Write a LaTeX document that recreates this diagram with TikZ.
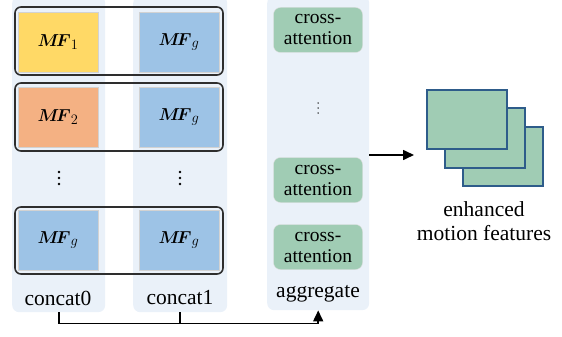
\documentclass[tikz,border=0pt]{standalone}
\usepackage{amsmath}
\usepackage{fontspec}
\setmainfont{Liberation Serif}
\usetikzlibrary{arrows.meta}
\definecolor{colbg}{HTML}{EAF1F9}
\definecolor{mfyellow}{HTML}{FFD966}
\definecolor{mforange}{HTML}{F4B183}
\definecolor{mfblue}{HTML}{9DC3E6}
\definecolor{cagreen}{HTML}{A0CCB4}
\definecolor{stackline}{HTML}{2E5C8A}
\definecolor{pairline}{HTML}{2E2E2E}
\tikzset{
  col/.style={fill=colbg, rounded corners=7pt, inner sep=0pt, anchor=north west},
  mf/.style={draw=gray!35, line width=0.8pt, minimum width=80pt, minimum height=60pt, inner sep=0pt, font=\fontsize{19}{20}\selectfont},
  pair/.style={draw=pairline, line width=1.6pt, rounded corners=6pt},
  ca/.style={fill=cagreen, draw=gray!25, rounded corners=7pt, minimum width=89pt, minimum height=45pt, inner sep=0pt, align=center, font=\fontsize{19.5}{21}\selectfont},
  lab/.style={font=\fontsize{21.5}{24}\selectfont},
  frame/.style={draw=stackline, fill=cagreen, line width=1.3pt},
  conn/.style={line width=1.6pt},
  dot/.style={circle, fill=black, inner sep=0pt, minimum size=#1}
}
\newcommand{\mfbox}[1]{$\boldsymbol{M\!F}_{#1}$}
\begin{document}
\begin{tikzpicture}[x=1pt,y=-1pt,>={Triangle[length=11pt,width=10pt]}]
  \useasboundingbox (0,0) rectangle (562,337);
  % columns
  \node[col, minimum width=93pt, minimum height=316pt] (col0) at (12,-4) {};
  \node[col, minimum width=94pt, minimum height=316pt] (col1) at (133,-4) {};
  \node[col, minimum width=102pt, minimum height=314pt] (agg) at (267,-4) {};
  % pairs
  \draw[pair] (15,7) rectangle (223,75);
  \draw[pair] (15,83) rectangle (223,151);
  \draw[pair] (15,207) rectangle (223,274);
  \node[mf, fill=mfyellow] (mfa) at (58,42) {\mfbox{1}};
  \node[mf, fill=mfblue] (mfb) at (179,42) {\mfbox{g}};
  \node[mf, fill=mforange] (mfc) at (58,117) {\mfbox{2}};
  \node[mf, fill=mfblue] (mfd) at (179,117) {\mfbox{g}};
  \node[mf, fill=mfblue] (mfe) at (58,240) {\mfbox{g}};
  \node[mf, fill=mfblue] (mff) at (179,240) {\mfbox{g}};
  % dots
  \foreach \x in {59,180} {
    \foreach \y in {172,178,184}
      \node[dot=2.6pt] at (\x,\y) {};
  }
  \foreach \y in {103,108,113}
    \node[dot=1.5pt] at (318,\y) {};
  \node[lab] (l0) at (58,298) {concat0};
  \node[lab] (l1) at (180,298) {concat1};
  % aggregate
  \node[ca] (caa) at (318,30) {cross-\\attention};
  \node[ca] (cab) at (318,180) {cross-\\attention};
  \node[ca] (cac) at (318,247) {cross-\\attention};
  \node[lab] (l2) at (318,294) {aggregate};
  % output stack
  \draw[frame] (463,127) rectangle (543,186);
  \draw[frame] (445,108) rectangle (525,168);
  \draw[frame] (427,90) rectangle (507,149);
  \node[lab, align=center] (out) at (484,221) {enhanced\\motion features};
  \coordinate (tip) at (414,155);
  \draw[conn, ->] (agg.east |- tip) -- (tip);
  % connectors
  \draw[conn, ->] (col0.south) -- ++(0,11) -| (agg.south);
  \draw[conn] (col1.south) -- ++(0,11);
\end{tikzpicture}
\end{document}
